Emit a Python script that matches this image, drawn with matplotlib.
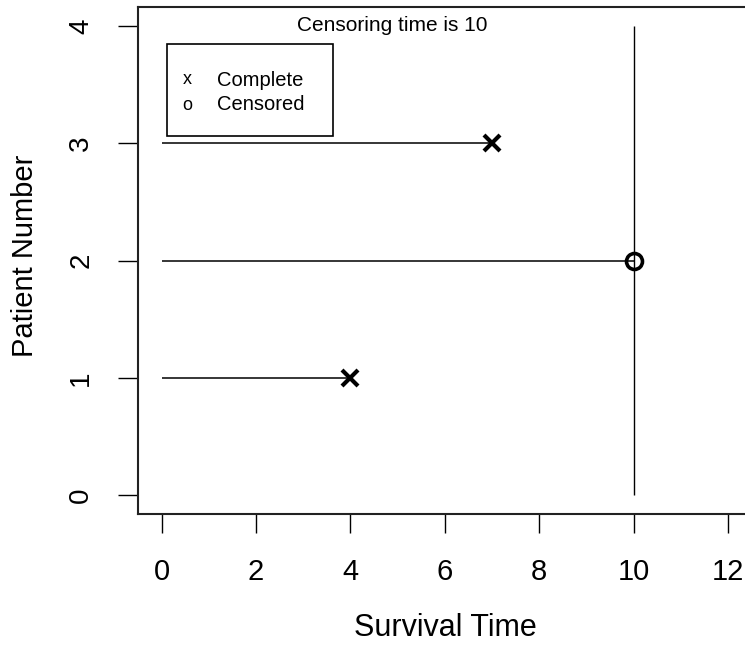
import numpy as np
import matplotlib.pyplot as plt
from matplotlib.patches import Rectangle

plt.rcParams['font.family'] = ['Liberation Sans', 'DejaVu Sans']

# survival data
patients = [1, 2, 3]
times = [4, 10, 7]
censored = [False, True, False]
censor_time = 10
x_ticks = [0, 2, 4, 6, 8, 10, 12]
y_ticks = [0, 1, 2, 3, 4]

W, H = 745, 648
fig = plt.figure(figsize=(W / 100, H / 100), dpi=100)


def px(x, y):
    # figure pixel -> figure fraction
    return x / W, 1 - y / H


ax = fig.add_axes([138 / W, 134 / H, 613.6 / W, 507 / H])
ax.set_xlim(-0.5, 12.5)
ax.set_ylim(-0.16, 4.16)

times = np.array(times)
patients = np.array(patients)
cens = np.array(censored)

ax.hlines(patients, 0, times, color='black', lw=1.1)
ax.vlines(censor_time, 0, 4, color='black', lw=1.0)

ax.plot(times[~cens], patients[~cens], 'x', color='black', ms=11, mew=3)
ax.plot(times[cens], patients[cens], 'o', color='black', ms=11.5, mew=2.6,
        fillstyle='none')

ax.text(4.88, 4.0, 'Censoring time is 10', ha='center', va='center', fontsize=15)

for s in ax.spines.values():
    s.set_linewidth(1.5)
    s.set_color('#222222')

ax.set_xticks(x_ticks)
ax.set_yticks(y_ticks)
ax.tick_params(axis='x', length=13.7, width=1.0, pad=18, labelsize=21)
ax.tick_params(axis='y', length=14.4, width=1.0, pad=26.5, labelsize=20)
for lab in ax.get_yticklabels():
    lab.set_rotation(90)
    lab.set_ha('center')
    lab.set_va('center')

ax.set_xlabel('Survival Time', fontsize=22)
ax.xaxis.set_label_coords(0.5003, -0.195)
ax.set_ylabel('Patient Number', fontsize=21)
ax.yaxis.set_label_coords(-0.161, 0.509)

# legend box drawn like R's legend()
x0, y0 = px(167, 136)
x1, y1 = px(333, 44)
fig.add_artist(Rectangle((x0, y0), x1 - x0, y1 - y0, transform=fig.transFigure,
                         fill=False, edgecolor='black', lw=1.2))
for sym, label, ypix in [('x', 'Complete', 80), ('o', 'Censored', 105)]:
    fig.text(*px(187, ypix), sym, ha='center', va='center', fontsize=13)
    fig.text(*px(217, ypix), label, ha='left', va='center', fontsize=14.5)

fig.savefig('out.png', dpi=100)
